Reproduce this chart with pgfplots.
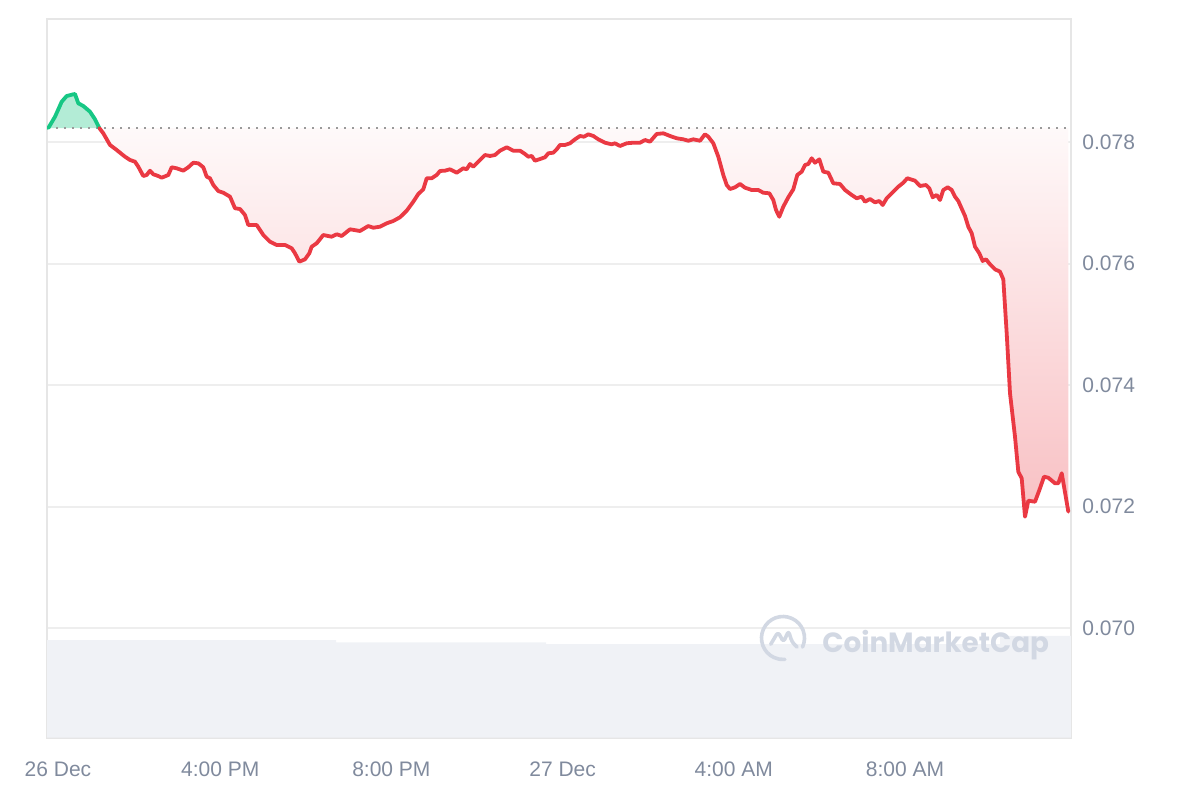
\documentclass[border=0pt]{standalone}
\usepackage{pgfplots}
\usepackage{pgfplotstable}
\pgfplotsset{compat=1.18}
\usepackage{fontspec}
\setmainfont{Liberation Sans}
\newfontfamily\poppins{Poppins}
\definecolor{cmcred}{HTML}{EA3943}
\definecolor{cmcgreen}{HTML}{16C784}
\definecolor{greenfill}{HTML}{B3ECD6}
\definecolor{ticktext}{HTML}{808A9D}
\definecolor{gridc}{HTML}{EEEEEE}
\definecolor{borderc}{HTML}{E6E6E6}
\definecolor{volc}{HTML}{F0F2F6}
\definecolor{wm}{HTML}{D2D8E3}
\definecolor{basec}{HTML}{9A9A9A}

% x: pixel position, converted to hours after 12:00 PM (26 Dec)
\pgfplotstableread{
px price
48.3 0.07823
55 0.078416
61.7 0.078663
66.7 0.078757
73.3 0.078785
75 0.078790
78.3 0.078637
83.3 0.078593
90 0.078499
95 0.078374
99.3 0.07823
}\greendata

% first row only closes the shaded area
\pgfplotstableread{
px price
1068.3 0.07823
99.3 0.07823
103.3 0.078143
110 0.077951
116.7 0.077868
125 0.077758
130 0.077704
135 0.077676
138.3 0.077593
143.3 0.077440
146.7 0.077457
150 0.077528
153.3 0.077468
158.3 0.077440
161.7 0.077412
168.3 0.077457
171.7 0.077584
176.7 0.077567
183.3 0.077528
188.3 0.077584
193.3 0.077659
198.3 0.077649
203.3 0.077584
206.7 0.077429
210 0.077403
213.3 0.077292
218.3 0.077193
223.3 0.077165
230 0.077100
235 0.076909
240 0.076897
245 0.076798
248.3 0.076634
256.7 0.076634
263.3 0.076469
270 0.076359
276.7 0.076305
285 0.076305
291.7 0.076250
295 0.076168
299.3 0.076030
305 0.076069
309.3 0.076168
311.7 0.076277
316.7 0.076333
323.3 0.076469
331.7 0.076441
336.7 0.076481
341.7 0.076453
350 0.076563
360 0.076535
368.3 0.076617
373.3 0.076589
380 0.076606
386.7 0.076662
393.3 0.076700
400 0.076761
406.7 0.076869
413.3 0.077017
418.3 0.077144
423.3 0.077221
426.7 0.077403
431.7 0.077403
436.7 0.077457
440 0.077523
445 0.077528
450 0.077551
456.7 0.077495
463.3 0.077567
466.7 0.077551
470 0.077638
473.3 0.077593
478.3 0.077676
485 0.077786
490 0.077770
495 0.077786
500 0.077857
506.7 0.077913
513.3 0.077857
520 0.077857
525 0.077802
528.3 0.077758
531.7 0.077770
535 0.077692
540 0.077720
545 0.077748
548.3 0.077814
553.3 0.077824
556.7 0.077880
560 0.077951
565 0.077951
570 0.077979
575 0.078044
580 0.078099
584 0.078087
588.3 0.078127
593.3 0.078099
598.3 0.078044
605 0.077988
611.7 0.077962
615 0.077979
620 0.077934
626.7 0.077979
633.3 0.077988
640 0.077988
645 0.078033
650 0.078005
656.7 0.078132
663.3 0.078143
670 0.078099
676.7 0.078061
683.3 0.078044
688.3 0.078021
693.3 0.078044
700 0.078021
705 0.078127
708.3 0.078087
713.3 0.077979
718.3 0.077758
723.3 0.077457
726.7 0.077292
730 0.077226
735 0.077254
740 0.077309
745 0.077248
751.7 0.077210
758.3 0.077210
763.3 0.077165
769.3 0.077156
773.3 0.077045
776 0.076881
779.3 0.076770
783.3 0.076935
788.3 0.077090
793.3 0.077221
797.3 0.077457
801.7 0.077511
805 0.077621
808.3 0.077638
811.7 0.077732
815 0.077659
819.3 0.077715
823.3 0.077511
828.3 0.077495
833.3 0.077320
840 0.077309
845 0.077210
851.7 0.077128
856.7 0.077073
861.7 0.077100
865 0.077017
870 0.077062
875 0.077007
879.3 0.077029
882.7 0.076963
886.7 0.077073
891.7 0.077156
898.3 0.077264
903.3 0.077330
907.3 0.077403
915 0.077363
920 0.077276
926 0.077292
929.3 0.077238
932.7 0.077090
936.7 0.077128
940 0.077045
943.3 0.077210
947.7 0.077254
951.7 0.077210
955 0.077100
958.3 0.077029
965 0.076782
968.3 0.076606
971.7 0.076497
975 0.076277
979.3 0.076168
982.7 0.076041
986 0.076069
990 0.075987
995 0.075905
1000 0.075865
1003.3 0.075740
1006.7 0.074851
1010 0.073864
1015 0.073149
1018.3 0.072573
1021.7 0.072464
1025 0.071832
1028.3 0.072096
1035 0.072079
1040 0.072300
1044 0.072491
1048.3 0.072474
1055 0.072382
1058.3 0.072382
1061.7 0.072547
1068.3 0.071915
}\reddata

\pgfplotstableread{
px price
47 0.069803
336 0.069765
546 0.069737
1000 0.069869
1071 0.069869
}\voldata

\begin{document}
\begin{tikzpicture}
\begin{axis}[
  at={(23.5pt,31.25pt)}, anchor=south west,
  scale only axis, width=512pt, height=359.5pt,
  xmin=-0.04673, xmax=23.8785,
  ymin=0.0681981, ymax=0.0800328,
  xtick={0.21,4,8,12,16,20},
  xticklabels={26 Dec,4:00 PM,8:00 PM,27 Dec,4:00 AM,8:00 AM},
  ytick={0.070,0.072,0.074,0.076,0.078},
  yticklabels={0.070,0.072,0.074,0.076,0.078},
  yticklabel pos=right,
  scaled y ticks=false,
  /pgf/number format/assume math mode=true,
  major tick length=0pt,
  tick style={draw=none},
  ymajorgrids,
  grid style={gridc, line width=1pt},
  axis line style={borderc, line width=1pt},
  tick label style={font=\fontsize{10.5}{12}\selectfont, text=ticktext},
  xticklabel style={anchor=base, inner sep=0pt, yshift=-19.25pt},
  yticklabel style={anchor=west, inner sep=0pt, xshift=5.5pt},
  clip=true,
]
% volume band
\addplot[fill=volc, draw=none, const plot]
  table[x expr={(\thisrow{px}-49)/42.8}, y=price] {\voldata} \closedcycle;
% green area above the opening price
\addplot[fill=greenfill, draw=none]
  table[x expr={(\thisrow{px}-49)/42.8}, y=price] {\greendata};
% red shaded area below the opening price
\addplot[draw=none, top color=cmcred!3, bottom color=cmcred!32]
  table[x expr={(\thisrow{px}-49)/42.8}, y=price] {\reddata};
% opening price (dotted)
\addplot[basec, line width=1pt, dash pattern=on 1pt off 3pt]
  coordinates {(-0.02,0.07823) (23.8785,0.07823)};
% price line
\addplot[cmcgreen, line width=1.9pt, line join=round, line cap=round]
  table[x expr={(\thisrow{px}-49)/42.8}, y=price] {\greendata};
\addplot[cmcred, line width=1.9pt, line join=round, line cap=round,
  skip coords between index={0}{1}]
  table[x expr={(\thisrow{px}-49)/42.8}, y=price] {\reddata};
\end{axis}
% watermark
\draw[wm, line width=1.8pt, line cap=round] (391.5pt,81pt) ++(-25:10.75pt) arc[start angle=-25, end angle=275, radius=10.75pt];
\draw[wm, line width=1.8pt, line cap=round, line join=round, rounded corners=1.5pt]
  (385.35pt,77.85pt) -- (389pt,84pt) -- (391.75pt,79pt) -- (394.25pt,84.5pt) -- (396pt,79pt) -- (398.5pt,76.5pt);
\node[anchor=base west, inner sep=0pt, text=wm, font=\poppins\bfseries\fontsize{13.9}{16}\selectfont] at (411pt,74pt) {CoinMarketCap};
\pgfresetboundingbox
\useasboundingbox (0,0) rectangle (600pt,400pt);
\end{tikzpicture}
\end{document}
